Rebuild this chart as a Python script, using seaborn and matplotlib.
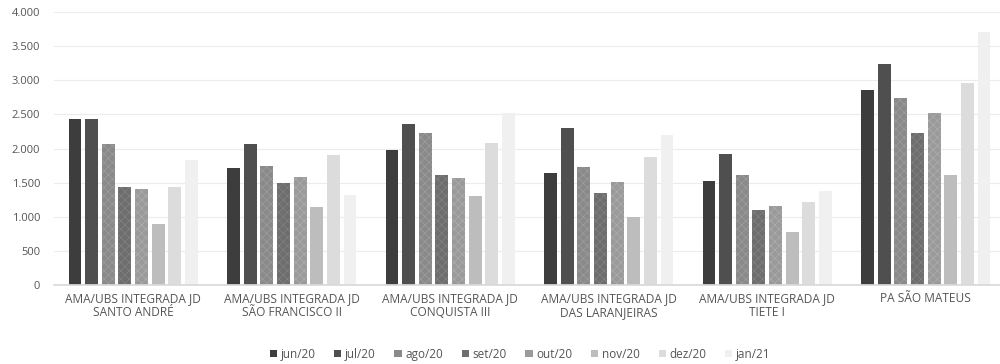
import matplotlib
matplotlib.use("Agg")
import matplotlib.pyplot as plt
import matplotlib.ticker as mticker
import seaborn as sns
import pandas as pd

units = [
    "AMA/UBS INTEGRADA JD\nSANTO ANDRÉ",
    "AMA/UBS INTEGRADA JD\nSÃO FRANCISCO II",
    "AMA/UBS INTEGRADA JD\nCONQUISTA III",
    "AMA/UBS INTEGRADA JD\nDAS LARANJEIRAS",
    "AMA/UBS INTEGRADA JD\nTIETE I",
    "PA SÃO MATEUS",
]
months = ["jun/20", "jul/20", "ago/20", "set/20", "out/20", "nov/20", "dez/20", "jan/21"]

jun20 = [2430, 1710, 1980, 1640, 1520, 2860]
jul20 = [2430, 2070, 2360, 2300, 1920, 3240]
ago20 = [2070, 1745, 2230, 1730, 1610, 2740]
set20 = [1435, 1500, 1610, 1350, 1100, 2230]
out20 = [1405, 1580, 1565, 1505, 1160, 2520]
nov20 = [895, 1145, 1310, 995, 775, 1610]
dez20 = [1435, 1910, 2080, 1875, 1215, 2960]
jan21 = [1830, 1320, 2520, 2200, 1380, 3700]

series = [jun20, jul20, ago20, set20, out20, nov20, dez20, jan21]
df = pd.DataFrame(
    [(u, m, v) for m, vals in zip(months, series) for u, v in zip(units, vals)],
    columns=["unidade", "mes", "atendimentos"],
)

grays = ["#3d3d3d", "#4f4f4f", "#8a8a8a", "#6e6e6e", "#9a9a9a", "#bdbdbd", "#dcdcdc", "#f0f0f0"]
hatches = [None, None, "xxxx", "xxxx", "xxxx", None, None, None]
hatch_colors = [None, None, "#a2a2a2", "#868686", "#b2b2b2", None, None, None]

sns.set_theme(style="white")
plt.rcParams["font.family"] = ["Open Sans", "DejaVu Sans"]
plt.rcParams["hatch.linewidth"] = 0.4
text_color = "#555555"

fig = plt.figure(figsize=(10, 3.64), dpi=100)
ax = fig.add_axes([0.054, 0.217, 0.951, 0.750])

sns.barplot(
    data=df, x="unidade", y="atendimentos", hue="mes",
    order=units, hue_order=months, palette=grays,
    width=0.84, gap=0.22, ax=ax, legend=True,
    saturation=1, linewidth=0,
)

for container, h, hc in zip(ax.containers, hatches, hatch_colors):
    for bar in container:
        if h:
            bar.set_hatch(h)
            bar.set_edgecolor(hc)
            bar.set_linewidth(0)

ax.set_ylim(0, 4000)
ax.set_yticks(range(0, 4001, 500))
ax.yaxis.set_major_formatter(
    mticker.FuncFormatter(lambda v, _: f"{int(v):,}".replace(",", "."))
)
ax.grid(axis="y", color="#ececec", linewidth=0.8)
ax.set_axisbelow(True)
for side in ["top", "right", "left"]:
    ax.spines[side].set_visible(False)
ax.spines["bottom"].set_color("#d9d9d9")
ax.set_xlabel("")
ax.set_ylabel("")
ax.tick_params(axis="y", length=0, labelsize=8, colors=text_color, pad=10)
ax.tick_params(axis="x", length=0, labelsize=8.6, colors=text_color, pad=5)
for lbl in ax.get_xticklabels():
    lbl.set_linespacing(1.15)

leg = ax.legend(
    loc="upper center", bbox_to_anchor=(0.49, -0.19), ncol=8,
    frameon=False, fontsize=8.5, handlelength=0.6, handleheight=0.6,
    handletextpad=0.3, columnspacing=1.6,
)
for t in leg.get_texts():
    t.set_color(text_color)

fig.savefig("out.png", dpi=100, facecolor="white")
